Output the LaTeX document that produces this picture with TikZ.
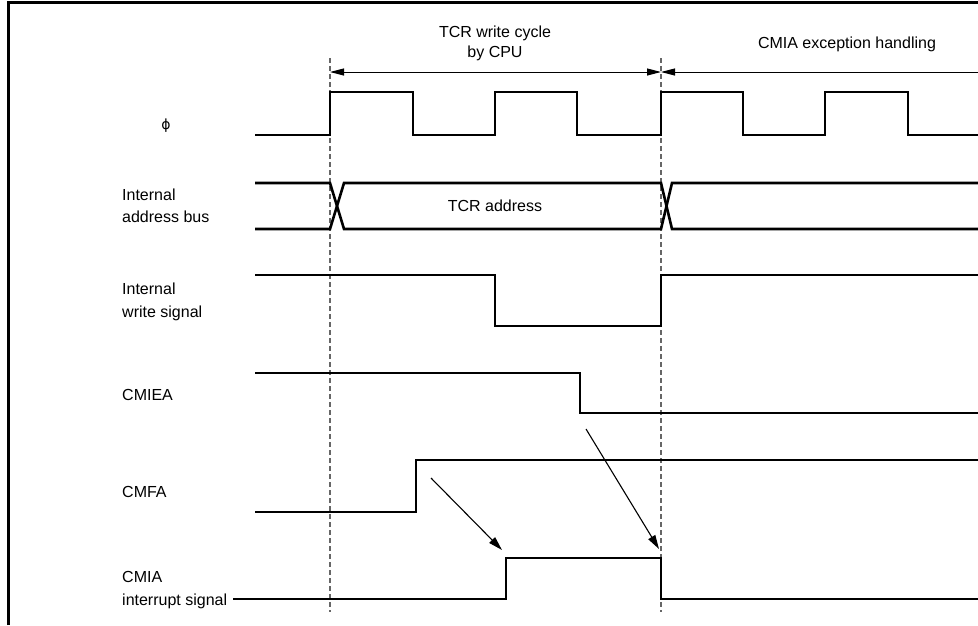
\documentclass[tikz,border=0pt]{standalone}
\usepackage{fontspec}
\setmainfont{Liberation Sans}
\newfontfamily\grkfont{DejaVu Sans}
\usepackage{tikz}
\usetikzlibrary{arrows.meta}

\begin{document}
\begin{tikzpicture}[
  x=1pt, y=-1pt,
  lbl/.style={anchor=west, align=left, inner sep=0pt, font=\fontsize{16}{22.5}\selectfont},
  hdr/.style={align=center, inner sep=0pt, font=\fontsize{16}{20}\selectfont},
  sig/.style={line width=2.6pt, line join=miter},
  guide/.style={gray!80!black, line width=1.4pt, dash pattern=on 5pt off 3pt},
  cause/.style={line width=1.1pt, -{Triangle[length=14pt, width=8pt]}},
  dim/.style={line width=1pt, {Triangle[length=14pt, width=7pt]}-{Triangle[length=14pt, width=7pt]}}
]
  \useasboundingbox (0,0) rectangle (978,625);

  % frame
  \draw[line width=3pt] (8,625) -- (8,2.5) -- (978,2.5);

  % time marks
  \coordinate (t1) at (330,72);
  \coordinate (t2) at (661,72);
  \coordinate (tE) at (978,72);
  \draw[guide] (330,58) -- (330,612);
  \draw[guide] (661,58) -- (661,612);

  \node[hdr] (wcyc) at (495,43) {TCR write cycle\\by CPU};
  \node[hdr] (exch) at (847,44) {CMIA exception handling};
  \draw[dim] (t1) -- (t2);
  \draw[line width=1pt, {Triangle[length=14pt, width=7pt]}-] (t2) -- (tE);

  % signal names
  \node[inner sep=0pt, font=\grkfont\fontsize{14}{16}\selectfont] (phi) at (166,126) {ϕ};
  \node[lbl] (abus) at (122,206) {Internal\\address bus};
  \node[lbl] (wsig) at (122,302) {Internal\\write signal};
  \node[lbl] (cmiea) at (122,395) {CMIEA};
  \node[lbl] (cmfa) at (122,492) {CMFA};
  \node[lbl] (cmia) at (122,590) {CMIA\\interrupt signal};

  % clock
  \draw[sig] (255,135) -- (330,135) -- (330,92) -- (413,92) -- (413,135)
    -- (495,135) -- (495,92) -- (577,92) -- (577,135)
    -- (661,135) -- (661,92) -- (743,92) -- (743,135)
    -- (825,135) -- (825,92) -- (908,92) -- (908,135) -- (978,135);

  % address bus
  \draw[sig] (255,183) -- (330,183) -- (344,229) -- (661,229) -- (672,183) -- (978,183);
  \draw[sig] (255,229) -- (330,229) -- (344,183) -- (661,183) -- (672,229) -- (978,229);
  \node[hdr] (tcra) at (495,206) {TCR address};

  % write signal
  \draw[sig] (255,275) -- (495,275) -- (495,326) -- (661,326) -- (661,275) -- (978,275);

  % CMIEA
  \draw[sig] (255,373) -- (580,373) -- (580,413) -- (978,413);

  % CMFA
  \draw[sig] (255,512) -- (416,512) -- (416,460) -- (978,460);

  % CMIA
  \draw[sig] (233,599) -- (506,599) -- (506,558) -- (661,558) -- (661,599) -- (978,599);

  % causes
  \coordinate (fromA) at (431,478);
  \coordinate (toA) at (502,550);
  \coordinate (fromB) at (586,429);
  \coordinate (toB) at (659,549);
  \draw[cause] (fromA) -- (toA);
  \draw[cause] (fromB) -- (toB);
\end{tikzpicture}
\end{document}
